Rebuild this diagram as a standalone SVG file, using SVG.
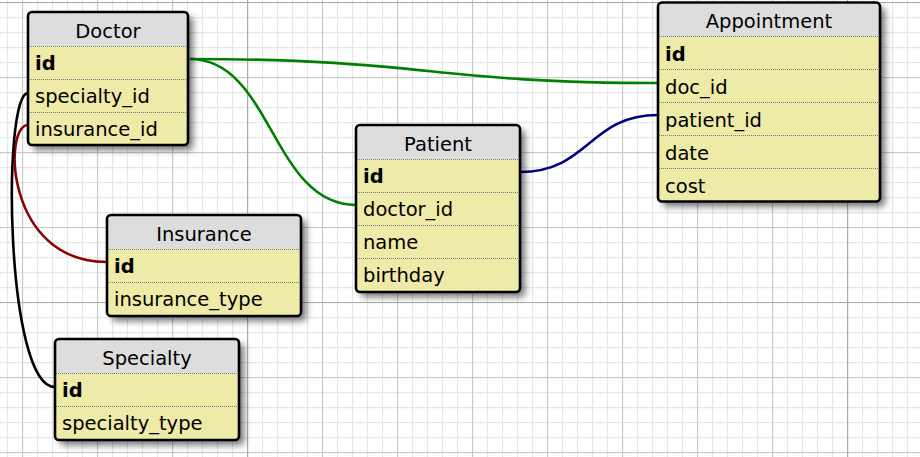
<svg xmlns="http://www.w3.org/2000/svg" width="920" height="457" viewBox="0 0 920 457">
<style>
.hdr{fill:#dddddd}
.body{fill:#eeeaa8}
.frame{fill:none;stroke:#000;stroke-width:2.6}
.sep{stroke:#7a7a8a;stroke-width:1;stroke-dasharray:1 1}
.title{font-family:"DejaVu Sans",Verdana,sans-serif;font-size:19.5px;fill:#000;text-anchor:middle}
.row{font-family:"DejaVu Sans",Verdana,sans-serif;font-size:19.5px;fill:#000}
.pk{font-weight:bold}
.conn{fill:none;stroke-width:2.6}
</style>
<defs>
<pattern id="gMinor" patternUnits="userSpaceOnUse" x="7" y="2" width="15" height="15">
<path d="M0.5,0V15M0,0.5H15" stroke="#e6e6e6" stroke-width="1.3"/>
</pattern>
<pattern id="gMajor" patternUnits="userSpaceOnUse" x="22" y="2" width="75" height="75">
<path d="M0.5,0V75M0,0.5H75" stroke="#c8c8c8" stroke-width="1.2"/>
</pattern>
<pattern id="gDark" patternUnits="userSpaceOnUse" x="247" y="2" width="600" height="300">
<path d="M0.5,0V300M0,0.5H600" stroke="#ababab" stroke-width="1.2"/>
</pattern>
<filter id="shadow" x="-10%" y="-10%" width="130%" height="130%">
<feDropShadow dx="5" dy="5" stdDeviation="3.5" flood-color="#000" flood-opacity="0.55"/>
</filter>
</defs>
<rect width="920" height="457" fill="#ffffff"/>
<rect width="920" height="457" fill="url(#gMinor)"/>
<rect width="920" height="457" fill="url(#gMajor)"/>
<rect width="920" height="457" fill="url(#gDark)"/>

<g id="connectors">
<path class="conn" stroke="#008000" d="M190,59 C430,59 430,83 658,83"/>
<path class="conn" stroke="#008000" d="M190,59 C272,59 272,205 356,205"/>
<path class="conn" stroke="#000080" d="M520,172 C589,172 589,115 658,115"/>
<path class="conn" stroke="#8b0000" d="M28,125 C3,125 5,262 107,262"/>
<path class="conn" stroke="#000000" d="M28,93 C2,93 5,387 55,387"/>
</g>

<g id="doctor">
<rect x="28" y="12" width="160" height="133" rx="4" class="body" filter="url(#shadow)"/>
<path class="hdr" d="M32,12H184A4,4 0 0 1 188,16V46H28V16A4,4 0 0 1 32,12Z"/>
<line class="sep" x1="29" y1="46.5" x2="187" y2="46.5"/>
<line class="sep" x1="29" y1="79.5" x2="187" y2="79.5"/>
<line class="sep" x1="29" y1="112.5" x2="187" y2="112.5"/>
<rect x="28" y="12" width="160" height="133" rx="4" class="frame"/>
<text class="title" x="108" y="37.5">Doctor</text>
<text class="row pk" x="35" y="70">id</text>
<text class="row" x="35" y="103">specialty_id</text>
<text class="row" x="35" y="136">insurance_id</text>
</g>

<g id="appointment">
<rect x="658" y="2.5" width="222" height="199" rx="4" class="body" filter="url(#shadow)"/>
<path class="hdr" d="M662,2.5H876A4,4 0 0 1 880,6.5V36.5H658V6.5A4,4 0 0 1 662,2.5Z"/>
<line class="sep" x1="659" y1="36.5" x2="879" y2="36.5"/>
<line class="sep" x1="659" y1="69.5" x2="879" y2="69.5"/>
<line class="sep" x1="659" y1="102.5" x2="879" y2="102.5"/>
<line class="sep" x1="659" y1="135.5" x2="879" y2="135.5"/>
<line class="sep" x1="659" y1="168.5" x2="879" y2="168.5"/>
<rect x="658" y="2.5" width="222" height="199" rx="4" class="frame"/>
<text class="title" x="769" y="27.5">Appointment</text>
<text class="row pk" x="665" y="60.5">id</text>
<text class="row" x="665" y="93.5">doc_id</text>
<text class="row" x="665" y="126.5">patient_id</text>
<text class="row" x="665" y="159.5">date</text>
<text class="row" x="665" y="192.5">cost</text>
</g>

<g id="patient">
<rect x="356" y="125" width="164" height="167" rx="4" class="body" filter="url(#shadow)"/>
<path class="hdr" d="M360,125H516A4,4 0 0 1 520,129V159H356V129A4,4 0 0 1 360,125Z"/>
<line class="sep" x1="357" y1="159.5" x2="519" y2="159.5"/>
<line class="sep" x1="357" y1="192.5" x2="519" y2="192.5"/>
<line class="sep" x1="357" y1="225.5" x2="519" y2="225.5"/>
<line class="sep" x1="357" y1="258.5" x2="519" y2="258.5"/>
<rect x="356" y="125" width="164" height="167" rx="4" class="frame"/>
<text class="title" x="438" y="150.5">Patient</text>
<text class="row pk" x="363" y="183">id</text>
<text class="row" x="363" y="216">doctor_id</text>
<text class="row" x="363" y="249">name</text>
<text class="row" x="363" y="282">birthday</text>
</g>

<g id="insurance">
<rect x="107" y="215" width="194" height="101" rx="4" class="body" filter="url(#shadow)"/>
<path class="hdr" d="M111,215H297A4,4 0 0 1 301,219V249H107V219A4,4 0 0 1 111,215Z"/>
<line class="sep" x1="108" y1="249.5" x2="300" y2="249.5"/>
<line class="sep" x1="108" y1="282.5" x2="300" y2="282.5"/>
<rect x="107" y="215" width="194" height="101" rx="4" class="frame"/>
<text class="title" x="204" y="240.5">Insurance</text>
<text class="row pk" x="114" y="273">id</text>
<text class="row" x="114" y="306">insurance_type</text>
</g>

<g id="specialty">
<rect x="55" y="339" width="184" height="101" rx="4" class="body" filter="url(#shadow)"/>
<path class="hdr" d="M59,339H235A4,4 0 0 1 239,343V373H55V343A4,4 0 0 1 59,339Z"/>
<line class="sep" x1="56" y1="373.5" x2="238" y2="373.5"/>
<line class="sep" x1="56" y1="406.5" x2="238" y2="406.5"/>
<rect x="55" y="339" width="184" height="101" rx="4" class="frame"/>
<text class="title" x="147" y="364.5">Specialty</text>
<text class="row pk" x="62" y="397">id</text>
<text class="row" x="62" y="430">specialty_type</text>
</g>
</svg>
